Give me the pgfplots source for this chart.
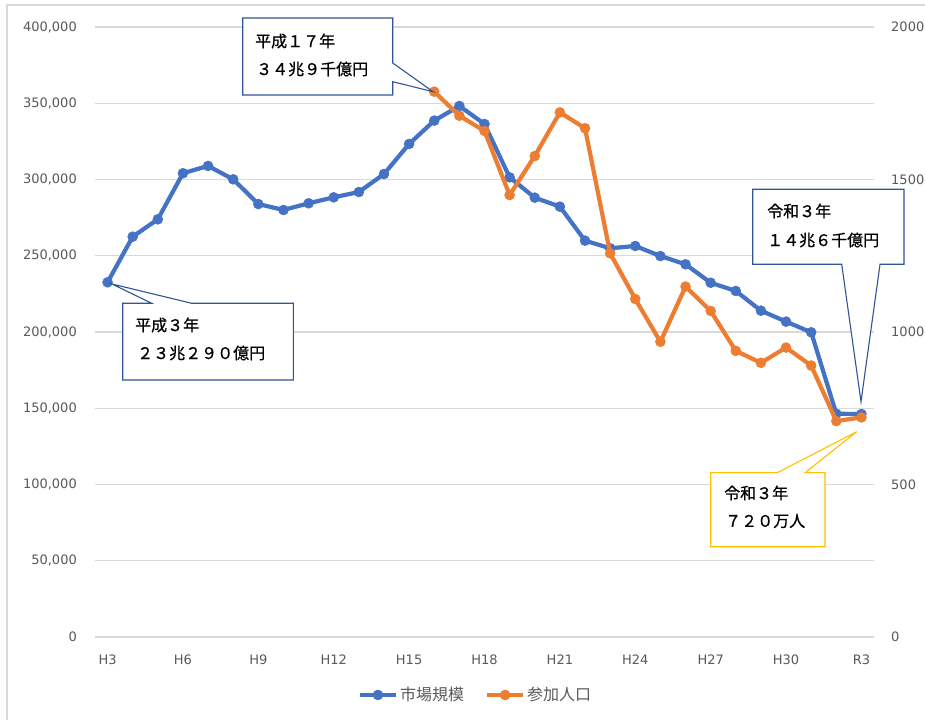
\documentclass[border=0pt]{standalone}
\usepackage{fontspec}
\setmainfont{DejaVu Sans}
\newfontfamily\jp{Noto Sans CJK JP}
\newfontfamily\jpb[FakeBold=0.7]{Noto Sans CJK JP}
\usepackage{pgfplots}
\pgfplotsset{compat=1.18}
\definecolor{cblue}{HTML}{4472C4}
\definecolor{corange}{HTML}{ED7D31}
\definecolor{gridc}{HTML}{D9D9D9}
\definecolor{tickc}{HTML}{595959}
\definecolor{callblue}{HTML}{2F5597}
\definecolor{callyellow}{HTML}{FFC000}

\pgfplotstableread{
x y
0 232600
1 262500
2 273900
3 304100
4 308900
5 300100
6 283900
7 280000
8 284400
9 288300
10 291800
11 303600
12 323300
13 338600
14 348200
15 336400
16 301400
17 288100
18 282200
19 259900
20 254900
21 256400
22 249800
23 244400
24 232300
25 226900
26 214000
27 206800
28 199800
29 146400
30 146200
}\market

\pgfplotstableread{
x y
13 1788
14 1709
15 1659
16 1449
17 1577
18 1720
19 1668
20 1258
21 1108
22 968
23 1149
24 1069
25 938
26 899
27 949
28 890
29 708
30 720
}\people

\begin{document}
\begin{tikzpicture}
\begin{scope}[x=1pt,y=-1pt,shift={(-95pt,637pt)}]
\useasboundingbox (0,0) rectangle (925,720);
\fill[white] (0,0) rectangle (925,720);
\draw[gridc,line width=1.2pt] (7,720) -- (7,5) -- (925,5);
\end{scope}

\pgfplotsset{
  serstyle/.style={line width=4.2pt, line join=round, mark=*, mark size=5pt,
    mark options={solid, line width=0.5pt}},
  legend image code/.code={
    \draw[mark repeat=2,mark phase=2,#1] plot coordinates {(0pt,0pt)(18pt,0pt)(36pt,0pt)};
  },
}

\begin{axis}[
  at={(0,0)}, anchor=south west, scale only axis,
  width=779pt, height=610pt,
  xmin=-0.5, xmax=30.5, ymin=0, ymax=400000,
  xtick={0,3,...,30},
  xticklabels={H3,H6,H9,H12,H15,H18,H21,H24,H27,H30,R3},
  ytick={0,50000,...,400000},
  scaled y ticks=false, scaled x ticks=false,
  /pgf/number format/fixed,
  /pgf/number format/precision=0,
  /pgf/number format/1000 sep={,},
  /pgf/number format/assume math mode=true,
  ymajorgrids, major grid style={gridc, line width=1.2pt},
  axis line style={draw=none},
  major tick length=0pt,
  ticklabel style={font=\fontsize{13}{15}\selectfont, text=tickc},
  yticklabel style={inner sep=0pt, xshift=-18pt},
  xticklabel style={inner sep=0pt, yshift=-18pt},
  clip=false,
  legend style={at={(axis description cs:0.4885,-0.095)}, anchor=center,
    draw=none, fill=none, legend columns=2,
    font=\jp\fontsize{16}{16}\selectfont, text=tickc,
    /tikz/every even column/.append style={column sep=19pt},
    nodes={inner sep=2pt}},
]
\addplot[serstyle, color=cblue] table {\market};
\addlegendentry{市場規模}
\addlegendimage{serstyle, color=corange}
\addlegendentry{参加人口}
\end{axis}

\begin{axis}[
  at={(0,0)}, anchor=south west, scale only axis,
  width=779pt, height=610pt,
  xmin=-0.5, xmax=30.5, ymin=0, ymax=2000,
  ytick={0,500,...,2000},
  xtick=\empty,
  scaled y ticks=false, scaled x ticks=false,
  hide x axis,
  axis y line*=right,
  axis line style={draw=none},
  major tick length=0pt,
  /pgf/number format/fixed,
  /pgf/number format/1000 sep={},
  /pgf/number format/assume math mode=true,
  ticklabel style={font=\fontsize{13}{15}\selectfont, text=tickc},
  yticklabel style={inner sep=0pt, xshift=17pt},
  clip=false,
]
\addplot[serstyle, color=corange] table {\people};
\end{axis}

\begin{scope}[x=1pt,y=-1pt,shift={(-95pt,637pt)}]
\tikzset{cl/.style={line width=1.1pt, fill=white},
  ct/.style={anchor=west, inner sep=0pt, text=black, font=\jpb\fontsize{16}{16}\selectfont}}
% box 1
\draw[cl, draw=callblue] (242.7,18) -- (392.7,18) -- (392.7,63) -- (433,91.7) -- (392.7,81.7) -- (392.7,95) -- (242.7,95) -- cycle;
\node[ct] at (255,41) {平成１７年};
\node[ct] at (256,69) {３４兆９千億円};
% box 2
\draw[cl, draw=callblue] (122.7,303.3) -- (151.7,303.3) -- (112,284) -- (191.7,303.3) -- (293.3,303.3) -- (293.3,380) -- (122.7,380) -- cycle;
\node[ct] at (135,325) {平成３年};
\node[ct] at (137,353) {２３兆２９０億円};
% box 3
\draw[cl, draw=callblue] (752.7,189.3) -- (904,189.3) -- (904,264.3) -- (880,264.3) -- (861,401.7) -- (841.7,264.3) -- (752.7,264.3) -- cycle;
\node[ct] at (767,211) {令和３年};
\node[ct] at (767,240) {１４兆６千億円};
% box 4
\draw[cl, draw=callyellow] (710.7,472.7) -- (777.3,472.7) -- (856.7,431.7) -- (805,472.7) -- (825,472.7) -- (825,546.7) -- (710.7,546.7) -- cycle;
\node[ct] at (724,493) {令和３年};
\node[ct] at (725,521) {７２０万人};
\end{scope}
\end{tikzpicture}
\end{document}
